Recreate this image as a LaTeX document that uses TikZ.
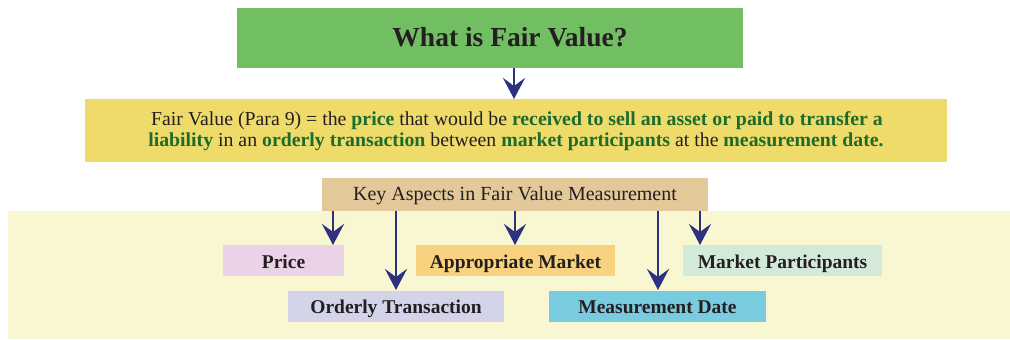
\documentclass[tikz,border=0pt]{standalone}
\usepackage{fontspec}
\setmainfont{Liberation Serif}
\usetikzlibrary{arrows.meta}
\definecolor{titlegreen}{HTML}{72BF63}
\definecolor{defyellow}{HTML}{EEDB6A}
\definecolor{keytan}{HTML}{E3C99A}
\definecolor{bgcream}{HTML}{F9F6D2}
\definecolor{pricepink}{HTML}{EAD3E8}
\definecolor{marketorange}{HTML}{F8D27F}
\definecolor{partgreen}{HTML}{D3EADA}
\definecolor{orderlav}{HTML}{D3D3EA}
\definecolor{datecyan}{HTML}{79CBE0}
\definecolor{arrownavy}{HTML}{2E3180}
\definecolor{textgreen}{HTML}{1E6B2E}
\definecolor{textdark}{HTML}{231F20}
\begin{document}
\begin{tikzpicture}[x=1pt,y=-1pt,
  aspectlabel/.style={font=\fontsize{19.5}{23}\selectfont\bfseries, text=textdark, anchor=base, inner sep=0pt},
  deftext/.style={font=\fontsize{19.8}{23}\selectfont, text=textdark, anchor=base, inner sep=0pt},
  navyarrow/.style={draw=arrownavy, line width=2.6pt, -{Stealth[length=21pt,width=22pt,inset=8pt]}}]
\useasboundingbox (0,0) rectangle (1010,340);
% background
\fill[bgcream] (8,211) rectangle (1010,339);
% title
\fill[titlegreen] (237,8) rectangle (743,68);
\node[font=\fontsize{27.5}{32}\selectfont\bfseries, text=textdark, anchor=base, inner sep=0pt] (title) at (510,46.7) {What is Fair Value?};
\coordinate (titlebot) at (514,68);
% definition
\fill[defyellow] (85,99) rectangle (947,162);
\coordinate (deftop) at (514,99);
\node[deftext] (defa) at (517,125)
 {Fair Value (Para 9) = the \textcolor{textgreen}{\bfseries price} that would be \textcolor{textgreen}{\bfseries received to sell an asset or paid to transfer a}};
\node[deftext] (defb) at (516,146.7)
 {\textcolor{textgreen}{\bfseries liability} in an \textcolor{textgreen}{\bfseries orderly transaction} between \textcolor{textgreen}{\bfseries market participants} at the \textcolor{textgreen}{\bfseries measurement date.}};
% key aspects
\fill[keytan] (322,178) rectangle (708,211);
\node[font=\fontsize{20}{24}\selectfont, text=textdark, anchor=base, inner sep=0pt] (key) at (515,200.7) {Key Aspects in Fair Value Measurement};
% aspect boxes
\fill[pricepink] (223,245) rectangle (344,276);
\node[aspectlabel] (price) at (283.5,268.3) {Price};
\fill[marketorange] (416,245) rectangle (615,276);
\node[aspectlabel] (market) at (515.5,268.3) {Appropriate Market};
\fill[partgreen] (683,245) rectangle (882,276);
\node[aspectlabel] (part) at (782.5,268.3) {Market Participants};
\fill[orderlav] (288,291) rectangle (504,322);
\node[aspectlabel] (order) at (396,313.3) {Orderly Transaction};
\fill[datecyan] (549,291) rectangle (766,322);
\node[aspectlabel] (date) at (657.5,313.3) {Measurement Date};
% arrow anchors
\coordinate (k1) at (333,211); \coordinate (p1) at (333,245);
\coordinate (k2) at (396,211); \coordinate (p2) at (396,290);
\coordinate (k3) at (515,211); \coordinate (p3) at (515,245);
\coordinate (k4) at (658,211); \coordinate (p4) at (658,290);
\coordinate (k5) at (700,211); \coordinate (p5) at (700,245);
\draw[navyarrow] (titlebot) -- (deftop);
\draw[navyarrow] (k1) -- (p1);
\draw[navyarrow] (k2) -- (p2);
\draw[navyarrow] (k3) -- (p3);
\draw[navyarrow] (k4) -- (p4);
\draw[navyarrow] (k5) -- (p5);
\end{tikzpicture}
\end{document}
